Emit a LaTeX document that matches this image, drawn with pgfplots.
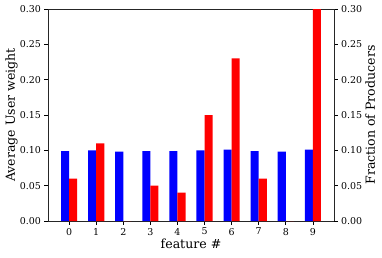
\documentclass[border=0pt]{standalone}
\usepackage{pgfplots}
\pgfplotsset{compat=1.18}
\usepackage{fontspec}
\setmainfont{DejaVu Serif}
\begin{document}
\begin{tikzpicture}
\useasboundingbox (-48bp,-37bp) rectangle (334bp,221bp);
\pgfplotsset{
  common/.style={
    scale only axis, width=286bp, height=212bp,
    at={(0,0)}, anchor=south west,
    xmin=-0.78, xmax=9.78, ymin=0, ymax=0.30,
    ytick={0,0.05,...,0.30},
    yticklabel style={/pgf/number format/.cd, fixed, fixed zerofill, precision=2},
    /pgf/number format/assume math mode=true,
    ybar, bar width=8.1bp,
    tick style={black, line width=0.6pt},
    tick align=outside, major tick length=3.5bp,
    axis line style={line width=0.6pt, black!85},
    tick label style={font=\fontsize{9.5}{11}\selectfont},
    label style={font=\fontsize{12.6}{15}\selectfont},
    clip=false,
  }
}
\begin{axis}[common,
  xtick={0,...,9}, xtick pos=bottom, axis y line*=left, axis x line*=box,
  xlabel={feature \#}, ylabel={Average User weight},
  xlabel style={yshift=3bp}, ylabel style={yshift=-4.5bp},
]
\addplot[fill=blue, draw=none, bar shift=-4.05bp] coordinates {
(0,0.099) (1,0.100) (2,0.098) (3,0.099) (4,0.099) (5,0.100) (6,0.101) (7,0.099) (8,0.098) (9,0.101)};
\end{axis}
\begin{axis}[common,
  axis y line*=right, axis x line=none, xtick=\empty,
  ylabel={Fraction of Producers}, ylabel style={yshift=3.5bp},
]
\addplot[fill=red, draw=none, bar shift=4.05bp] coordinates {
(0,0.06) (1,0.11) (2,0) (3,0.05) (4,0.04) (5,0.15) (6,0.23) (7,0.06) (8,0) (9,0.30)};
\end{axis}
\end{tikzpicture}
\end{document}
